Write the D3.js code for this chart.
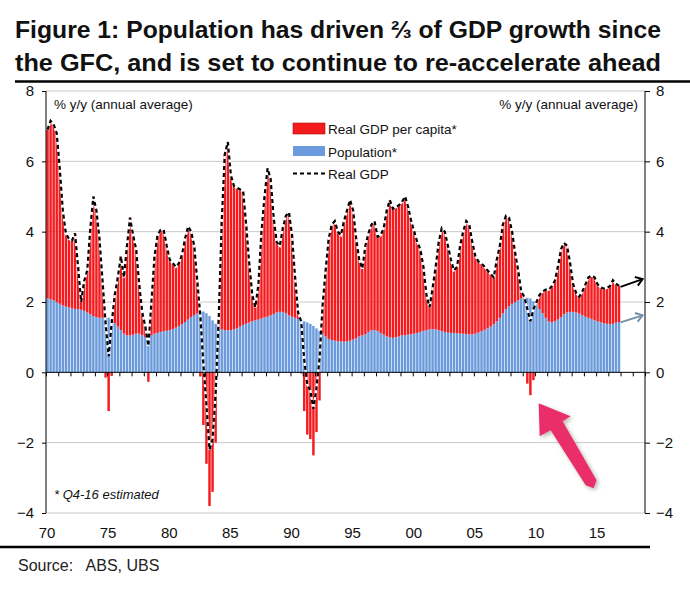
<!DOCTYPE html>
<html><head><meta charset="utf-8">
<script src="https://cdn.jsdelivr.net/npm/d3@7"></script>
<style>
body{margin:0;background:#fff;}
svg{display:block;font-family:"Liberation Sans",Arial,sans-serif;}
</style></head>
<body><svg id="c" width="690" height="591"></svg>
<script>
// ---- data (quarterly, 1970Q1 .. 2016Q4) ----
const startYear = 1970;
const realGDP = [
 6.9,7.15,7.05,6.8,  5.8,4.6,3.95,3.8,  3.75,3.95,3.0,2.0,  2.6,2.9,4.1,5.0,
 4.6,3.8,2.6,1.4,  0.45,1.4,2.2,2.7,  3.3,2.7,3.6,4.4,  3.9,3.5,2.5,1.7,
 1.3,0.75,2.0,3.3,  3.9,4.05,4.05,3.6,  3.2,3.1,3.0,3.1,  3.35,3.8,4.15,4.0,
 3.6,2.6,1.6,0.23,  -0.92,-2.2,-1.92,-0.62,  1.5,4.3,6.2,6.55,  5.6,5.3,5.25,5.2,
 5.15,4.2,3.1,2.2,  1.85,2.5,4.0,5.0,  5.8,5.5,4.4,3.7,  3.6,4.1,4.45,4.55,
 3.9,2.7,1.7,1.45,  0.35,-0.35,-0.52,-1.04,  -0.45,0.38,1.9,2.9,  3.8,4.2,4.3,4.0,
 3.9,4.3,4.6,4.9,  4.6,3.8,3.2,2.95,  3.6,3.95,4.2,4.3,  3.85,3.9,4.1,4.6,
 4.9,4.65,4.7,4.75,  4.85,5.0,4.7,4.3,  4.0,3.7,3.5,3.0,  2.2,1.85,2.4,3.0,
 3.7,4.1,4.0,3.6,  3.2,2.9,3.0,3.6,  4.0,4.3,4.2,3.7,  3.3,3.15,3.1,3.0,
 2.9,2.8,2.7,3.2,  3.6,4.2,4.45,4.4,  4.0,3.4,2.9,2.3,  2.15,1.8,1.45,1.8,
 2.0,2.2,2.3,2.35,  2.35,2.45,2.6,3.0,  3.5,3.68,3.6,3.1,  2.5,2.25,2.15,2.3,
 2.5,2.7,2.75,2.7,  2.5,2.42,2.38,2.4,  2.45,2.62,2.52,2.46
];
const population = [
 2.1,2.08,2.05,2.0,  1.95,1.9,1.87,1.85,  1.82,1.8,1.8,1.78,  1.75,1.7,1.65,1.6,
 1.57,1.55,1.55,1.55,  1.55,1.5,1.4,1.3,  1.2,1.1,1.05,1.05,  1.07,1.1,1.1,1.05,
 1.0,1.02,1.05,1.1,  1.12,1.15,1.17,1.18,  1.2,1.23,1.27,1.32,  1.37,1.43,1.5,1.57,
 1.63,1.68,1.72,1.73,  1.68,1.6,1.48,1.38,  1.3,1.22,1.2,1.2,  1.2,1.22,1.25,1.3,
 1.35,1.38,1.42,1.45,  1.48,1.5,1.53,1.56,  1.58,1.62,1.66,1.7,  1.72,1.72,1.68,1.62,
 1.58,1.55,1.52,1.48,  1.45,1.42,1.38,1.32,  1.25,1.18,1.1,1.02,  0.95,0.92,0.9,0.88,
 0.88,0.87,0.88,0.9,  0.93,0.97,1.02,1.05,  1.08,1.15,1.2,1.2,  1.18,1.12,1.07,1.02,
 1.0,0.98,1.0,1.02,  1.05,1.06,1.07,1.08,  1.1,1.12,1.15,1.18,  1.2,1.22,1.23,1.22,
 1.2,1.17,1.15,1.13,  1.12,1.12,1.11,1.1,  1.1,1.09,1.08,1.08,  1.1,1.13,1.17,1.21,
 1.25,1.3,1.37,1.45,  1.55,1.68,1.8,1.88,  1.95,2.0,2.05,2.1,  2.12,2.12,2.1,2.02,
 1.92,1.8,1.68,1.55,  1.45,1.42,1.45,1.5,  1.57,1.65,1.7,1.72,  1.72,1.7,1.67,1.62,
 1.58,1.55,1.52,1.48,  1.45,1.42,1.4,1.38,  1.37,1.38,1.41,1.43
];
const yTicks = [-4,-2,0,2,4,6,8];
const xLabelYears = [1970,1975,1980,1985,1990,1995,2000,2005,2010,2015];
const legendLabels = ["Real GDP per capita*","Population*","Real GDP"];
const titleLines = ["Figure 1: Population has driven \u2154 of GDP growth since",
                    "the GFC, and is set to continue to re-accelerate ahead"];

// ---- drawing ----
const svg = d3.select("#c");
const RED = "#f41a1e", BLUE = "#6b9bdc";
const x = d3.scaleLinear().domain([1970, 2019]).range([46, 645]);
const y = d3.scaleLinear().domain([-4, 8]).range([513, 91]);

const data = realGDP.map((g,i)=>({t: startYear + i/4, gdp: g, pop: population[i], pc: +(g - population[i]).toFixed(3)}));

// title
titleLines.forEach((s,i)=>{
  svg.append("text").attr("x",15).attr("y",38 + i*33)
    .attr("font-size",24).attr("font-weight","bold").attr("fill","#111")
    .attr("textLength",646).attr("lengthAdjust","spacingAndGlyphs").text(s);
});
svg.append("line").attr("x1",15).attr("x2",690).attr("y1",81.5).attr("y2",81.5).attr("stroke","#000").attr("stroke-width",2.5);

// gridlines
svg.append("g").selectAll("line").data(yTicks.filter(d=>d!==0)).join("line")
  .attr("x1",x(1970)).attr("x2",x(2019)).attr("y1",d=>y(d)).attr("y2",d=>y(d))
  .attr("stroke","#c8c8c8").attr("stroke-width",1);

// bars
const bw = (x(1970.25)-x(1970))*0.8;
const gb = svg.append("g");
gb.selectAll("rect.pop").data(data).join("rect").attr("class","pop")
  .attr("x",d=>x(d.t)+0.3).attr("width",bw)
  .attr("y",d=>y(d.pop)).attr("height",d=>y(0)-y(d.pop)).attr("fill",BLUE);
gb.selectAll("rect.pc").data(data).join("rect").attr("class","pc")
  .attr("x",d=>x(d.t)+0.3).attr("width",bw)
  .attr("y",d=>d.pc>=0 ? y(d.pop+d.pc) : y(0))
  .attr("height",d=>Math.abs(y(d.pc)-y(0))).attr("fill",RED);

// GDP line
const line = d3.line().x(d=>x(d.t+0.125)).y(d=>y(d.gdp));
svg.append("path").datum(data).attr("d",line).attr("fill","none").attr("stroke","#fff").attr("stroke-width",2.2);
svg.append("path").datum(data).attr("d",line).attr("fill","none").attr("stroke","#000").attr("stroke-width",2.2).attr("stroke-dasharray","4,3");

// axes
const axL = svg.append("g").attr("transform",`translate(${x(1970)},0)`)
  .call(d3.axisLeft(y).tickValues(yTicks).tickSize(4).tickPadding(8).tickFormat(d3.format("d")));
const axR = svg.append("g").attr("transform",`translate(${x(2019)},0)`)
  .call(d3.axisRight(y).tickValues(yTicks).tickSize(5).tickPadding(6).tickFormat(d3.format("d")));
[axL,axR].forEach(a=>{
  a.select(".domain").attr("stroke","#000").attr("d", `M0,${y(8)}V${y(-4)}`);
  a.selectAll("text").attr("font-size",15).attr("fill","#111").attr("font-family","Liberation Sans, Arial, sans-serif");
  a.selectAll(".tick line").attr("stroke","#000");
});
const axB = svg.append("g").attr("transform",`translate(0,${y(0)})`)
  .call(d3.axisBottom(x).tickValues(d3.range(1970,2020)).tickSize(4).tickFormat(""));
axB.select(".domain").attr("stroke","#000").attr("d",`M${x(1970)},0H${x(2019)}`);
axB.selectAll(".tick line").attr("stroke","#000");

svg.append("g").selectAll("text").data(xLabelYears).join("text")
  .attr("x",d=>x(d)+1).attr("y",538).attr("text-anchor","middle")
  .attr("font-size",15).attr("fill","#111").text(d=>String(d%100).padStart(2,"0"));

// axis titles & notes
svg.append("text").attr("x",54).attr("y",109).attr("font-size",13.5).attr("fill","#111").text("% y/y (annual average)");
svg.append("text").attr("x",638).attr("y",109).attr("text-anchor","end").attr("font-size",13.5).attr("fill","#111").text("% y/y (annual average)");
svg.append("text").attr("x",54).attr("y",499).attr("font-size",13).attr("font-style","italic").attr("fill","#111").text("* Q4-16 estimated");

// legend
const lg = svg.append("g");
lg.append("rect").attr("x",293).attr("y",123).attr("width",32).attr("height",11).attr("fill",RED).attr("stroke","#b01010").attr("stroke-width",0.6);
lg.append("rect").attr("x",293).attr("y",146).attr("width",32).attr("height",10).attr("fill",BLUE);
lg.append("line").attr("x1",293).attr("x2",325).attr("y1",173.5).attr("y2",173.5).attr("stroke","#000").attr("stroke-width",2).attr("stroke-dasharray","4,3");
legendLabels.forEach((s,i)=>{
  lg.append("text").attr("x",328).attr("y",134 + i*22.5).attr("font-size",13.5).attr("fill","#111").text(s);
});

// right-side arrows
const defs = svg.append("defs");
function arrow(x1,y1,x2,y2,col){
  svg.append("line").attr("x1",x1).attr("y1",y1).attr("x2",x2).attr("y2",y2).attr("stroke",col).attr("stroke-width",2);
  const a = Math.atan2(y2-y1,x2-x1), L=8, s=0.6;
  const p = [[x2-L*Math.cos(a-s), y2-L*Math.sin(a-s)],[x2,y2],[x2-L*Math.cos(a+s), y2-L*Math.sin(a+s)]];
  svg.append("polyline").attr("points",p.map(q=>q.join(",")).join(" ")).attr("fill","none").attr("stroke",col).attr("stroke-width",2);
}
arrow(x(2017.0), y(2.43), x(2018.8), y(2.65), "#000");
arrow(x(2017.0), y(1.42), x(2018.8), y(1.62), "#7390aa");

// pink annotation arrow
const f = defs.append("filter").attr("id","sh").attr("x","-30%").attr("y","-30%").attr("width","160%").attr("height","160%");
f.append("feDropShadow").attr("dx",2).attr("dy",2).attr("stdDeviation",2).attr("flood-color","#888").attr("flood-opacity",0.6);
const tx = x(2010.3), ty = y(-0.88);
const pts = [[0,0],[32,13],[24,18],[58,77],[55,85],[47,82],[12,27],[1,33]].map(p=>[tx+p[0],ty+p[1]]);
svg.append("polygon").attr("points",pts.map(p=>p.join(",")).join(" ")).attr("fill","#ea2e6b").attr("filter","url(#sh)");

// footer
svg.append("line").attr("x1",0).attr("x2",650).attr("y1",547).attr("y2",547).attr("stroke","#000").attr("stroke-width",2.5);
svg.append("text").attr("x",18).attr("y",571).attr("font-size",16).attr("fill","#222").attr("xml:space","preserve").text("Source:   ABS, UBS");
</script></body></html>
